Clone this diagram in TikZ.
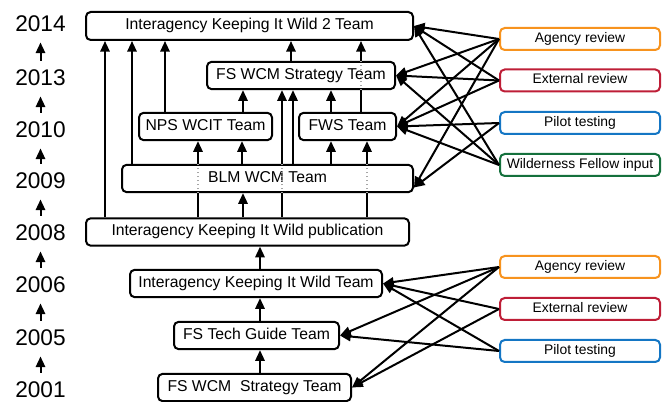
\documentclass[tikz,border=0pt]{standalone}
\usepackage{fontspec}
\setmainfont{Liberation Sans}
\usetikzlibrary{arrows.meta}
\definecolor{agencyorange}{RGB}{247,147,30}
\definecolor{externalred}{RGB}{190,30,55}
\definecolor{pilotblue}{RGB}{20,118,196}
\definecolor{fellowgreen}{RGB}{20,112,60}

\begin{document}
\begin{tikzpicture}[x=0.75pt,y=0.75pt,yscale=-1,xscale=1,
  team/.style={draw, line width=1.5pt, rounded corners=3.5pt, fill=white, minimum height=20.5pt, inner sep=0pt, text height=8.4pt, text depth=2.6pt, font=\fontsize{11.8}{12}\selectfont},
  review/.style={draw, line width=1.5pt, rounded corners=3.5pt, fill=white, minimum width=120pt, minimum height=16.5pt, inner sep=0pt, text height=7.4pt, text depth=2.3pt, font=\fontsize{10.4}{11}\selectfont},
  year/.style={inner sep=0pt, font=\fontsize{17}{17}\selectfont},
  link/.style={line width=1.5pt},
  flow/.style={line width=1.5pt, -{Triangle[length=8pt,width=7pt]}},
  hidden/.style={draw=gray!70, dotted, line width=1pt}]
\useasboundingbox (0,0) rectangle (668,402);

% Years
\node[year] (y2014) at (40.5,23.5) {2014};
\node[year] (y2013) at (40.5,77.5) {2013};
\node[year] (y2010) at (40.5,129.5) {2010};
\node[year] (y2009) at (40.5,180.5) {2009};
\node[year] (y2008) at (40.5,232.5) {2008};
\node[year] (y2006) at (40.5,284.5) {2006};
\node[year] (y2005) at (40.5,337.5) {2005};
\node[year] (y2001) at (40.5,389.5) {2001};

\draw[flow, shorten <=6.5pt, shorten >=8pt] (y2001) -- (y2005);
\draw[flow, shorten <=6.5pt, shorten >=8pt] (y2005) -- (y2006);
\draw[flow, shorten <=6.5pt, shorten >=8pt] (y2006) -- (y2008);
\draw[flow, shorten <=6.5pt, shorten >=8pt] (y2008) -- (y2009);
\draw[flow, shorten <=6.5pt, shorten >=8pt] (y2009) -- (y2010);
\draw[flow, shorten <=6.5pt, shorten >=8pt] (y2010) -- (y2013);
\draw[flow, shorten <=6.5pt, shorten >=8pt] (y2013) -- (y2014);

% Teams
\node[team, minimum width=245.25pt, minimum height=21pt] (ikwtwo) at (249.5,26) {Interagency Keeping It Wild 2 Team};
\node[team, minimum width=141pt] (wcmnew) at (301,75.5) {FS WCM Strategy Team};
\node[team, minimum width=99.75pt] (nps) at (205.5,126.5) {NPS WCIT Team};
\node[team, minimum width=72.75pt] (fws) at (347.5,126.5) {FWS Team};
\node[team, minimum width=218.25pt] (blm) at (267.5,178.5) {BLM WCM Team};
\node[team, minimum width=242.25pt] (pub) at (247.5,232) {Interagency Keeping It Wild publication};
\node[team, minimum width=189pt] (ikw) at (256,283.5) {Interagency Keeping It Wild Team};
\node[team, minimum width=123.75pt] (guide) at (256.5,335.5) {FS Tech Guide Team};
\node[team, minimum width=144.75pt] (wcmold) at (254.5,387.5) {FS WCM\ \ Strategy Team};

% Reviews
\node[review, draw=agencyorange] (agencyA) at (580,39) {Agency review};
\node[review, draw=externalred] (externalA) at (580,80.5) {External review};
\node[review, draw=pilotblue] (pilotA) at (580,123) {Pilot testing};
\node[review, draw=fellowgreen] (fellow) at (580,165) {Wilderness Fellow input};
\node[review, draw=agencyorange] (agencyB) at (580,267) {Agency review};
\node[review, draw=externalred] (externalB) at (580,309) {External review};
\node[review, draw=pilotblue] (pilotB) at (580,351) {Pilot testing};

% Vertical flows
\draw[flow] (105,0 |- pub.north) -- (105,0 |- ikwtwo.south);
\draw[flow] (132,0 |- blm.north) -- (132,0 |- ikwtwo.south);
\draw[flow] (165,0 |- nps.north) -- (165,0 |- ikwtwo.south);
\draw[flow] (291,0 |- wcmnew.north) -- (291,0 |- ikwtwo.south);
\draw[link] (361,0 |- fws.north) -- (361,0 |- wcmnew.south);
\draw[hidden] (361,0 |- wcmnew.south) -- (361,0 |- wcmnew.north);
\draw[flow] (361,0 |- wcmnew.north) -- (361,0 |- ikwtwo.south);
\draw[link] (198,0 |- pub.north) -- (198,0 |- blm.south);
\draw[hidden] (198,0 |- blm.south) -- (198,0 |- blm.north);
\draw[flow] (198,0 |- blm.north) -- (198,0 |- nps.south);
\draw[flow] (242,0 |- blm.north) -- (242,0 |- nps.south);
\draw[flow] (243,0 |- nps.north) -- (243,0 |- wcmnew.south);
\draw[link] (282,0 |- pub.north) -- (282,0 |- blm.south);
\draw[hidden] (282,0 |- blm.south) -- (282,0 |- blm.north);
\draw[flow] (282,0 |- blm.north) -- (282,0 |- wcmnew.south);
\draw[flow] (293,0 |- blm.north) -- (293,0 |- wcmnew.south);
\draw[flow] (331,0 |- fws.north) -- (331,0 |- wcmnew.south);
\draw[flow] (331,0 |- blm.north) -- (331,0 |- fws.south);
\draw[link] (367,0 |- pub.north) -- (367,0 |- blm.south);
\draw[hidden] (367,0 |- blm.south) -- (367,0 |- blm.north);
\draw[flow] (367,0 |- blm.north) -- (367,0 |- fws.south);
\draw[flow] (243,0 |- pub.north) -- (243,0 |- blm.south);
\draw[flow] (260,0 |- ikw.north) -- (260,0 |- pub.south);
\draw[flow] (260,0 |- guide.north) -- (260,0 |- ikw.south);
\draw[flow] (260,0 |- wcmold.north) -- (260,0 |- guide.south);

% Review inputs, top
\draw[flow] (agencyA.west) -- (ikwtwo.east);
\draw[flow] (agencyA.west) -- (wcmnew.east);
\draw[flow] (agencyA.west) -- (fws.east);
\draw[flow] (agencyA.west) -- ([yshift=6.75pt]blm.east);
\draw[flow] (externalA.west) -- (ikwtwo.east);
\draw[flow] (externalA.west) -- (wcmnew.east);
\draw[flow] (externalA.west) -- (fws.east);
\draw[flow] (pilotA.west) -- (fws.east);
\draw[flow] (pilotA.west) -- ([yshift=6.75pt]blm.east);
\draw[flow] (fellow.west) -- (ikwtwo.east);
\draw[flow] (fellow.west) -- (wcmnew.east);
\draw[flow] (fellow.west) -- (fws.east);

% Review inputs, bottom
\draw[flow] (agencyB.west) -- (ikw.east);
\draw[flow] (agencyB.west) -- (guide.east);
\draw[flow] (agencyB.west) -- (wcmold.east);
\draw[flow] (externalB.west) -- (ikw.east);
\draw[flow] (externalB.west) -- (wcmold.east);
\draw[flow] (pilotB.west) -- (ikw.east);
\draw[flow] (pilotB.west) -- (guide.east);

\end{tikzpicture}
\end{document}
